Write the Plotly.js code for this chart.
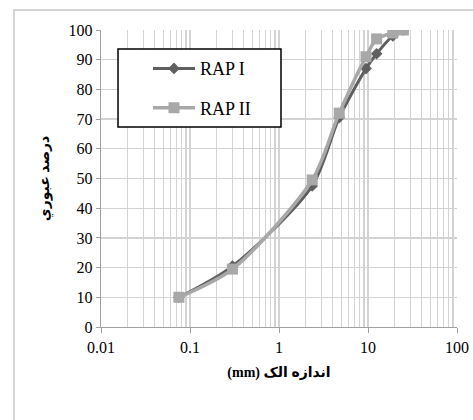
<!DOCTYPE html>
<html>
<head>
<meta charset="utf-8">
<script src="https://cdn.plot.ly/plotly-3.0.1.min.js"></script>
<style>html,body{margin:0;padding:0;background:#fff;}#chart{width:473px;height:420px;}</style>
</head>
<body>
<div id="chart"></div>
<script>
// Sieve sizes (mm)
const sieveSizes = [0.075, 0.3, 2.36, 4.75, 9.5, 12.5, 19, 25];
// Percent passing
const rap1Passing = [10, 20.5, 47.5, 70.5, 87, 92, 98, 100];
const rap2Passing = [10, 19.5, 49.5, 72, 91, 97, 99, 100];
const seriesNames = ['RAP I', 'RAP II'];
const xTickVals = [0.01, 0.1, 1, 10, 100];
const xTickText = ['0.01', '0.1', '1', '10', '100'];
const yTickVals = [0, 10, 20, 30, 40, 50, 60, 70, 80, 90, 100];
// RTL embedding so "(mm)" sits on the left as in the original
const xTitle = '<b>\u202Bاندازه الک (mm)\u202C</b>';
const yTitle = '<b>درصد عبوري</b>';

// minor grid positions (2..9 in each decade)
const minorVals = [];
for (let d = -2; d < 2; d++) {
  for (let k = 2; k <= 9; k++) minorVals.push(k * Math.pow(10, d));
}

const serif = '"Liberation Serif", "Times New Roman", "DejaVu Serif", serif';
const arabic = '"Liberation Serif", "DejaVu Sans", sans-serif';

const traces = [
  {
    x: sieveSizes, y: rap1Passing, name: seriesNames[0], type: 'scatter', mode: 'lines+markers',
    line: {color: '#5f5f5f', width: 3, shape: 'spline', smoothing: 0.8},
    marker: {symbol: 'diamond', size: 9, color: '#5f5f5f'},
    legendgroup: 'a'
  },
  {
    x: sieveSizes, y: rap2Passing, name: seriesNames[1], type: 'scatter', mode: 'lines+markers',
    line: {color: '#a8a8a8', width: 3.5, shape: 'spline', smoothing: 0.8},
    marker: {symbol: 'square', size: 11, color: '#a8a8a8'},
    legendgroup: 'b'
  }
];

const layout = {
  width: 473, height: 420,
  margin: {l: 101, r: 16, t: 30, b: 93},
  paper_bgcolor: '#ffffff', plot_bgcolor: '#ffffff',
  showlegend: true,
  legend: {
    x: 0.132, y: 0.932, xanchor: 'left', yanchor: 'top',
    bgcolor: 'rgba(0,0,0,0)', borderwidth: 0,
    font: {family: serif, size: 18, color: '#000'},
    itemwidth: 42, traceorder: 'grouped', tracegroupgap: 13
  },
  xaxis: {
    type: 'log', range: [-2, 2],
    tickmode: 'array', tickvals: xTickVals, ticktext: xTickText,
    ticks: 'outside', ticklen: 5, tickcolor: '#a0a0a0', tickwidth: 1,
    showgrid: true, gridcolor: '#d3d3d3', gridwidth: 1.3,
    minor: {tickmode: 'array', tickvals: minorVals, showgrid: true, gridcolor: '#d3d3d3', gridwidth: 1.3, ticks: ''},
    showline: true, linecolor: '#a0a0a0', linewidth: 1.3,
    zeroline: false,
    tickfont: {family: serif, size: 16, color: '#000'},
    title: {text: xTitle, font: {family: arabic, size: 14, color: '#000'}, standoff: 12}
  },
  yaxis: {
    range: [0, 100], tickmode: 'array', tickvals: yTickVals,
    ticks: 'outside', ticklen: 4, tickcolor: '#a0a0a0', tickwidth: 1,
    showgrid: true, gridcolor: '#d3d3d3', gridwidth: 1.3,
    showline: true, linecolor: '#a0a0a0', linewidth: 1.3,
    zeroline: false,
    tickfont: {family: serif, size: 16, color: '#000'},
    title: {text: yTitle, font: {family: arabic, size: 14, color: '#000'}, standoff: 15}
  },
  shapes: [
    // outer frame
    {type: 'rect', xref: 'paper', yref: 'paper', x0: -0.2444, x1: 1.1, y0: -0.4, y1: 1.0673,
     line: {color: '#c8c8c8', width: 1.5}, fillcolor: 'rgba(0,0,0,0)', layer: 'below'},
    // legend box
    {type: 'rect', xref: 'paper', yref: 'paper', x0: 0.0478, x1: 0.5056, y0: 0.673, y1: 0.936,
     line: {color: '#000', width: 1.5}, fillcolor: '#ffffff', layer: 'above'}
  ]
};

Plotly.newPlot('chart', traces, layout, {displayModeBar: false, staticPlot: true});
</script>
</body>
</html>
